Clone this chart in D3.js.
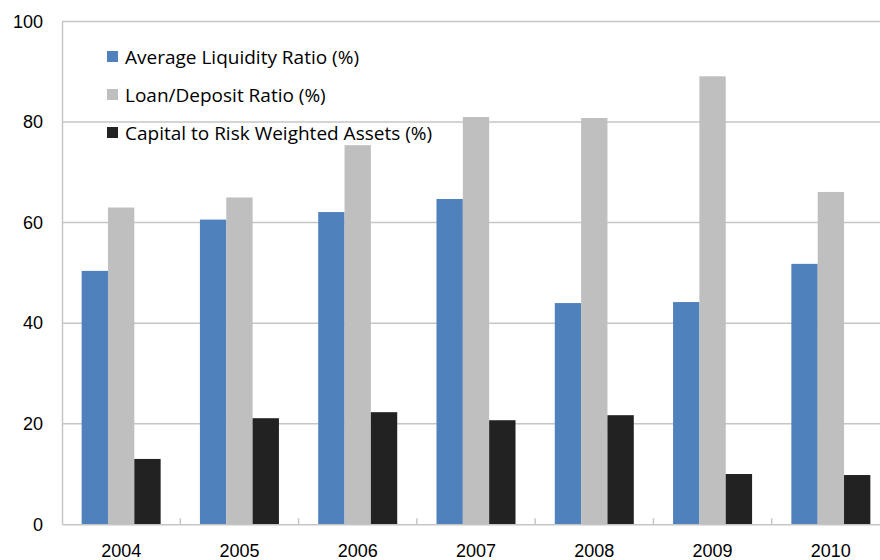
<!DOCTYPE html>
<html>
<head>
<meta charset="utf-8">
<script src="https://cdn.jsdelivr.net/npm/d3@7"></script>
<style>
  body { margin: 0; background: #fff; }
  svg { display: block; font-family: "Open Sans", "Liberation Sans", sans-serif; }
</style>
</head>
<body>
<div id="chart"></div>
<script>
// chart values
const years = ['2004', '2005', '2006', '2007', '2008', '2009', '2010']
const seriesNames = ['Average Liquidity Ratio (%)', 'Loan/Deposit Ratio (%)', 'Capital to Risk Weighted Assets (%)']
const liquidity = [50.4, 60.6, 62.1, 64.7, 44.0, 44.2, 51.8]
const loanDeposit = [63.0, 65.0, 75.4, 81.0, 80.8, 89.1, 66.1]
const capitalRisk = [13.0, 21.1, 22.3, 20.7, 21.7, 10.0, 9.8]
const yTicks = [0, 20, 40, 60, 80, 100]
const colors = ['#4f81bd', '#bfbfbf', '#222222']

const seriesValues = [liquidity, loanDeposit, capitalRisk]

let width = 880, height = 560
let margin = { left: 62, right: -10, top: 21.5, bottom: 35.7 }

let svg = d3.select('#chart').append('svg')
    .attr('width', width)
    .attr('height', height)

let x0 = d3.scaleBand()
    .domain(years)
    .range([margin.left, width - margin.right])
    .padding(0)

let x1 = d3.scaleBand()
    .domain(d3.range(seriesNames.length))
    .range([x0.bandwidth() * 0.166, x0.bandwidth() * 0.834])
    .padding(0)

let y = d3.scaleLinear()
    .domain([0, 100])
    .range([height - margin.bottom, margin.top])

// gridlines
svg.append('g')
    .selectAll('line')
    .data(yTicks.filter(d => d > 0))
    .join('line')
    .attr('x1', margin.left)
    .attr('x2', width)
    .attr('y1', d => y(d))
    .attr('y2', d => y(d))
    .style('stroke', '#c6c6c6')
    .style('stroke-width', 1.5)

// bars
let groups = svg.append('g')
    .selectAll('g')
    .data(years)
    .join('g')
    .attr('transform', d => 'translate(' + x0(d) + ',0)')

groups.selectAll('rect')
    .data((d, i) => seriesValues.map((s, k) => ({ k: k, v: s[i] })))
    .join('rect')
    .attr('x', d => x1(d.k))
    .attr('width', x1.bandwidth())
    .attr('y', d => y(d.v))
    .attr('height', d => y(0) - y(d.v))
    .attr('fill', d => colors[d.k])

// y axis
let yAxis = d3.axisLeft(y)
    .tickValues(yTicks)
    .tickSize(0)
    .tickPadding(19)

svg.append('g')
    .attr('transform', 'translate(' + margin.left + ',0)')
    .call(yAxis)
    .call(g => g.select('.domain').style('stroke', '#c6c6c6').style('stroke-width', 1.5))
    .call(g => g.selectAll('text').style('font-size', '18px').style('fill', '#000'))

// x axis
let xAxis = d3.axisBottom(x0)
    .tickSize(0)
    .tickPadding(20)

svg.append('g')
    .attr('transform', 'translate(0,' + y(0) + ')')
    .call(xAxis)
    .call(g => g.select('.domain').style('stroke', '#c6c6c6').style('stroke-width', 1.5))
    .call(g => g.selectAll('text').style('font-size', '18px').style('fill', '#000'))

// small tick marks between categories
svg.append('g')
    .selectAll('line')
    .data(years.slice(1))
    .join('line')
    .attr('x1', d => x0(d))
    .attr('x2', d => x0(d))
    .attr('y1', y(0))
    .attr('y2', y(0) - 6)
    .style('stroke', '#c6c6c6')
    .style('stroke-width', 1.5)

// legend
let legend = svg.append('g')
    .attr('transform', 'translate(107, 57)')

let legendItems = legend.selectAll('g')
    .data(seriesNames)
    .join('g')
    .attr('transform', (d, i) => 'translate(0,' + (i * 38) + ')')

legendItems.append('rect')
    .attr('x', 0)
    .attr('y', -6)
    .attr('width', 11)
    .attr('height', 11)
    .attr('fill', (d, i) => colors[i])

legendItems.append('text')
    .attr('x', 18)
    .attr('y', 7)
    .text(d => d)
    .style('font-size', '19px')
    .style('fill', '#000')
</script>
</body>
</html>
